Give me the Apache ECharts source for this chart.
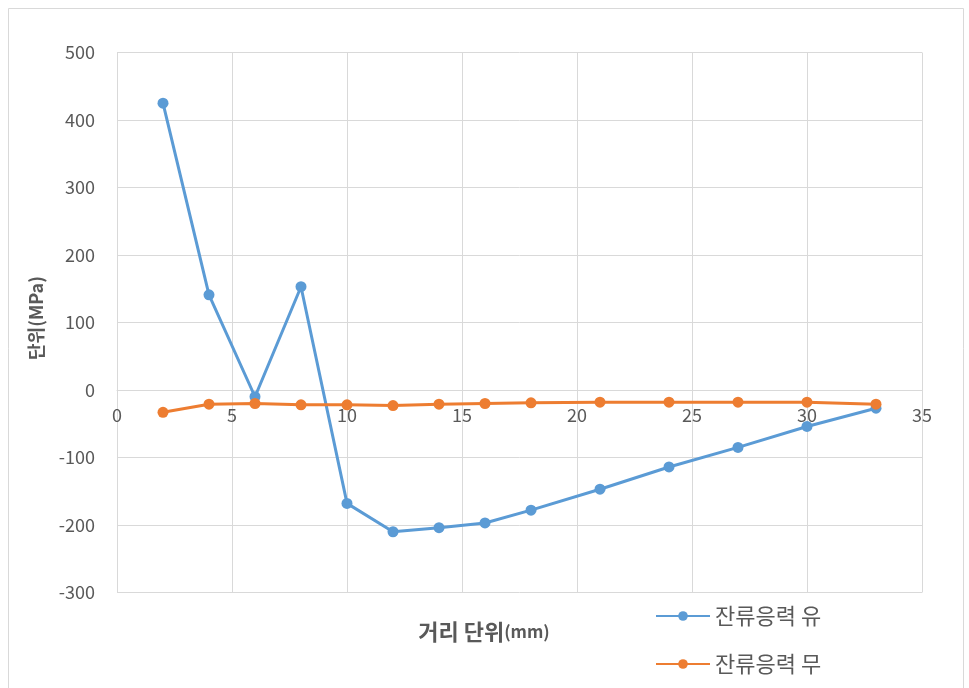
<!DOCTYPE html>
<html>
<head>
<meta charset="utf-8">
<script src="https://cdn.jsdelivr.net/npm/echarts@6/dist/echarts.min.js"></script>
<style>
  html, body { margin: 0; padding: 0; background: #fff; }
  #chart { width: 969px; height: 688px; }
</style>
</head>
<body>
<div id="chart"></div>
<script>
// Distance along the specimen (mm)
const distance = [2, 4, 6, 8, 10, 12, 14, 16, 18, 21, 24, 27, 30, 33];
// Residual stress (MPa), with and without residual stress
const stressWith = [425, 141, -10, 153, -168, -210, -204, -197, -178, -147, -114, -85, -54, -27];
const stressWithout = [-33, -21, -20, -22, -22, -23, -21, -20, -19, -18, -18, -18, -18, -21];

const seriesNames = ['잔류응력 유', '잔류응력 무'];
const xTitle = '거리 단위';
const xUnit = '(mm)';
const yTitle = '단위(MPa)';

const X_MIN = 0, X_MAX = 35, X_STEP = 5;
const Y_MIN = -300, Y_MAX = 500, Y_STEP = 100;

const FONT = '"Noto Sans CJK KR", "Noto Sans", sans-serif';
const GRID = '#d9d9d9';
const TEXT = '#595959';

const GRID_TOP = 52.5, GRID_BOTTOM = 95.5, CHART_H = 688;
const plotH = CHART_H - GRID_TOP - GRID_BOTTOM;
// Move the x axis up so it sits on the y = 0 line
const xAxisOffset = -plotH * (0 - Y_MIN) / (Y_MAX - Y_MIN);

const pairs = (xs, ys) => xs.map((x, i) => [x, ys[i]]);

const chart = echarts.init(document.getElementById('chart'), null, { renderer: 'canvas' });

chart.setOption({
  backgroundColor: '#fff',
  animation: false,
  textStyle: { fontFamily: FONT },
  grid: { left: 117, top: GRID_TOP, right: 47, bottom: GRID_BOTTOM, containLabel: false },
  xAxis: {
    type: 'value',
    min: X_MIN, max: X_MAX, interval: X_STEP,
    offset: xAxisOffset,
    axisLine: { show: true, onZero: false, lineStyle: { color: GRID, width: 1 } },
    axisTick: { show: false },
    axisLabel: { color: TEXT, fontSize: 18, fontFamily: FONT, margin: 16 },
    splitLine: { show: true, lineStyle: { color: GRID, width: 1 } }
  },
  yAxis: {
    type: 'value',
    min: Y_MIN, max: Y_MAX, interval: Y_STEP,
    axisLine: { show: true, lineStyle: { color: GRID, width: 1 } },
    axisTick: { show: false },
    axisLabel: { color: TEXT, fontSize: 18, fontFamily: FONT, margin: 22 },
    splitLine: { show: true, lineStyle: { color: GRID, width: 1 } }
  },
  legend: {
    orient: 'vertical',
    left: 650,
    top: 600,
    itemWidth: 54,
    itemHeight: 12,
    itemGap: 26,
    textStyle: { color: TEXT, fontSize: 22, fontFamily: FONT },
    data: seriesNames
  },
  graphic: [
    {
      type: 'rect',
      silent: true,
      shape: { x: 8.5, y: 8.5, width: 955, height: 700 },
      style: { fill: 'none', stroke: '#d9d9d9', lineWidth: 1 }
    },
    {
      type: 'text',
      x: 484,
      y: 632,
      style: {
        text: '{a|' + xTitle + '}{b|' + xUnit + '}',
        align: 'center',
        verticalAlign: 'middle',
        rich: {
          a: { fontSize: 22, fontWeight: 'bold', fill: TEXT, fontFamily: FONT },
          b: { fontSize: 17, fontWeight: 'bold', fill: TEXT, fontFamily: FONT }
        }
      }
    },
    {
      type: 'text',
      x: 36,
      y: 318,
      rotation: Math.PI / 2,
      style: {
        text: yTitle,
        fontSize: 18,
        fontWeight: 'bold',
        fill: TEXT,
        fontFamily: FONT,
        align: 'center',
        verticalAlign: 'middle'
      }
    }
  ],
  series: [
    {
      name: seriesNames[0],
      type: 'line',
      data: pairs(distance, stressWith),
      symbol: 'circle',
      symbolSize: 11,
      lineStyle: { color: '#5b9bd5', width: 3 },
      itemStyle: { color: '#5b9bd5' },
      z: 3
    },
    {
      name: seriesNames[1],
      type: 'line',
      data: pairs(distance, stressWithout),
      symbol: 'circle',
      symbolSize: 11,
      lineStyle: { color: '#ed7d31', width: 3 },
      itemStyle: { color: '#ed7d31' },
      z: 4
    }
  ]
});
</script>
</body>
</html>
